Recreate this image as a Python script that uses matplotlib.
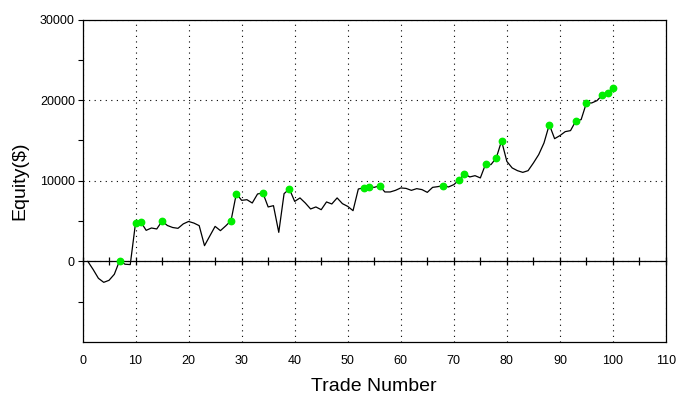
import matplotlib
matplotlib.use("Agg")
import matplotlib.pyplot as plt
from matplotlib.ticker import FixedLocator, NullFormatter

plt.rcParams['font.family'] = ['Liberation Sans', 'DejaVu Sans']

trades = list(range(1, 101))
equity = [
    0, -1000, -2100, -2600, -2350, -1600, 100, -350, -400, 4760,
    4890, 3850, 4140, 4020, 5000, 4450, 4200, 4100, 4650, 4950,
    4750, 4430, 1950, 3150, 4340, 3810, 4400, 5050, 8400, 7570,
    7650, 7240, 8360, 8490, 6750, 6910, 3600, 8400, 8980, 7440,
    7870, 7240, 6500, 6750, 6410, 7370, 7120, 7870, 7160, 6820,
    6290, 8980, 9110, 9230, 9180, 9390, 8610, 8610, 8810, 9110,
    9050, 8810, 9020, 8900, 8560, 9180, 9270, 9400, 9230, 9520,
    10100, 10880, 10470, 10630, 10350, 12080, 12000, 12830, 14940, 12400,
    11590, 11250, 11040, 11250, 12200, 13240, 14690, 16960, 15220, 15600,
    16090, 16220, 17420, 17580, 19650, 19650, 19940, 20650, 20900, 21560,
]
new_high_trades = [7, 10, 11, 15, 28, 29, 34, 39, 53, 54, 56, 68, 71, 72,
                   76, 78, 79, 88, 93, 95, 98, 99, 100]

x_ticks = list(range(0, 111, 10))
y_major = [0, 10000, 20000, 30000]
y_minor = [-5000, 5000, 15000, 25000]

fig = plt.figure(figsize=(6.98, 4.05), dpi=100)
ax = fig.add_axes([82.5 / 698, 1 - 342 / 405, (666 - 82.5) / 698, (342 - 19.5) / 405])

ax.plot(trades, equity, color='black', lw=0.9, zorder=3)
hx = new_high_trades
hy = [equity[trades.index(t)] for t in hx]
ax.plot(hx, hy, linestyle='none', marker='o', markersize=4.6,
        color='#00ee00', markeredgecolor='#00ee00', zorder=4)

ax.set_xlim(0, 110)
ax.set_ylim(-10000, 30000)
ax.set_xticks(x_ticks)
ax.set_yticks(y_major)
ax.yaxis.set_minor_locator(FixedLocator(y_minor))
ax.yaxis.set_minor_formatter(NullFormatter())

ax.tick_params(axis='x', length=0, pad=9, labelsize=9, colors='black')
ax.tick_params(axis='y', which='both', length=3.5, width=0.8, pad=2,
               labelsize=9, direction='out')

ax.grid(True, which='major', color='black', linestyle=(0, (1, 4)), lw=0.8)

for s in ax.spines.values():
    s.set_linewidth(0.9)
    s.set_color('black')

# zero line as a secondary axis with cross ticks every 5 trades
sec = ax.secondary_xaxis(0.25)
sec.set_xticks(list(range(0, 111, 5)))
sec.tick_params(direction='inout', length=5.5, width=0.9, labelbottom=False)
sec.spines['bottom'].set_linewidth(0.9)

ax.set_xlabel('Trade Number', fontsize=14, labelpad=8)
ax.set_ylabel('Equity($)', fontsize=14, labelpad=8)

fig.savefig('out.png', dpi=100)
